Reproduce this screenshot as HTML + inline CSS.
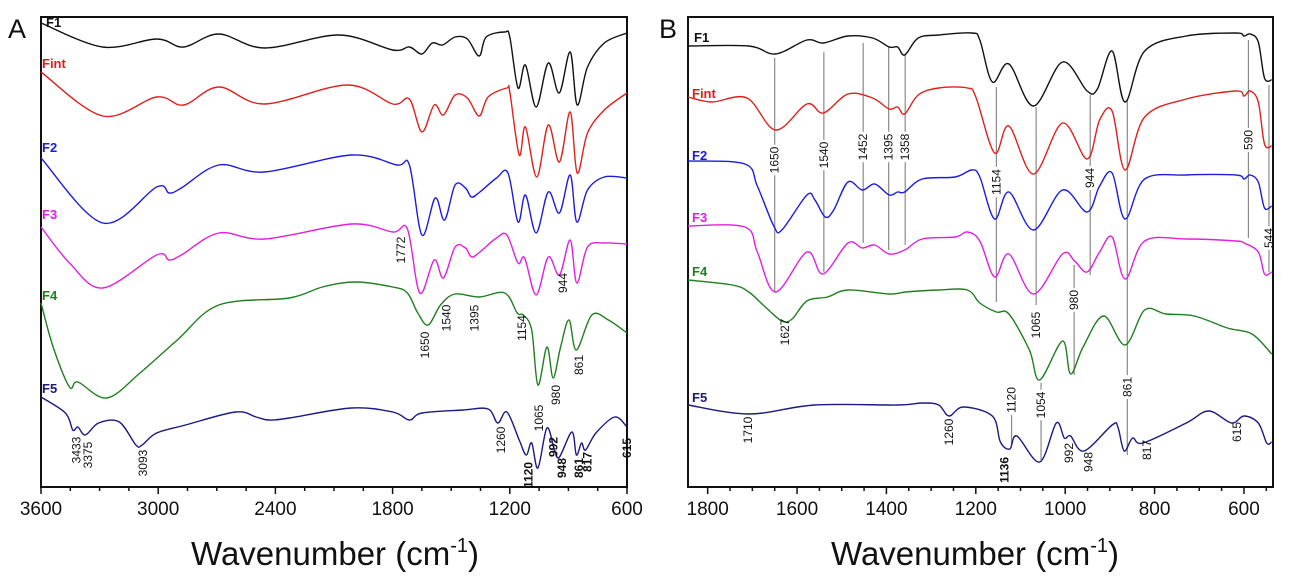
<!DOCTYPE html>
<html><head><meta charset="utf-8"><style>
body{margin:0;background:#fff;}
svg{display:block;font-family:"Liberation Sans",Arial,sans-serif;}
</style></head><body>
<svg id="fig" width="1299" height="579" viewBox="0 0 1299 579" xmlns="http://www.w3.org/2000/svg"></svg>
<script>
// ---- Panel A data (wavenumber cm-1, vertical offset a.u. downward) ----
const aF1W=[3600,3284,3008,2870,2690,2456,2075,1799,1714,1650,1597,1544,1480,1417,1357,1321,1226,1200,1158,1120,1065,1003,947,891,855,802,716,600];
const aF1V=[23,47,39,47,34,48,35,50,47,54,43,45,37,39,56,37,32,37,88,65,107,63,93,52,105,67,43,33];
const aFintW=[3600,3284,3008,2870,2690,2456,2032,1799,1714,1650,1587,1540,1480,1417,1357,1311,1215,1200,1152,1120,1062,1003,946,891,855,802,716,600];
const aFintV=[72,116,97,105,87,104,85,104,99,132,105,115,95,98,116,97,88,92,155,127,177,125,162,112,173,133,110,93];
const aF2W=[3600,3284,3008,2944,2881,2690,2456,2011,1778,1714,1650,1582,1534,1480,1427,1396,1353,1268,1209,1158,1120,1065,1003,946,891,857,802,716,600];
const aF2V=[158,223,187,193,188,165,172,155,165,165,235,198,220,185,188,197,192,178,173,222,195,233,192,213,175,222,190,177,178];
const aF3W=[3600,3454,3284,3008,2944,2881,2690,2456,2011,1799,1724,1661,1587,1540,1480,1427,1396,1353,1268,1215,1158,1124,1065,1003,946,891,857,802,716,600];
const aF3V=[227,263,288,255,260,255,233,239,224,232,229,293,260,278,247,248,257,252,238,235,263,258,295,257,275,240,283,247,243,244];
const aF4W=[3600,3538,3454,3411,3263,3093,2902,2690,2329,2159,1990,1799,1724,1671,1618,1555,1480,1357,1226,1162,1131,1088,1056,1010,978,940,897,859,780,695,600];
const aF4V=[303,347,387,382,398,373,340,305,298,287,282,287,293,313,325,305,294,297,293,313,315,330,385,347,378,347,320,350,315,320,333];
const aF5W=[3600,3475,3437,3411,3373,3305,3199,3114,3082,3008,2860,2605,2499,2435,2329,2011,1799,1714,1650,1438,1311,1262,1215,1152,1116,1088,1056,1010,971,946,882,859,833,812,759,663,600];
const aF5V=[397,413,430,427,435,423,422,445,445,433,425,412,417,420,418,408,412,420,413,410,409,423,412,440,455,443,468,428,450,457,432,455,443,450,433,417,427];
// ---- Panel B data ----
const bF1W=[1844,1708,1648,1578,1541,1486,1431,1394,1375,1359,1329,1283,1209,1191,1163,1126,1071,1006,951,928,895,866,822,729,618,600,586,568,554,538];
const bF1V=[46,46,54,40,43,36,38,47,47,55,38,35,33,40,82,64,106,62,91,89,51,102,51,36,33,36,34,42,78,80];
const bFintW=[1844,1791,1712,1648,1578,1541,1486,1431,1394,1375,1359,1329,1283,1219,1200,1158,1126,1071,1006,951,923,895,866,822,729,618,600,586,568,554,538];
const bFintV=[97,102,98,130,104,113,94,98,109,107,114,95,88,88,97,153,126,174,123,159,120,111,170,117,99,91,96,91,102,144,146];
const bF2W=[1844,1717,1689,1652,1634,1578,1560,1537,1518,1486,1454,1426,1394,1375,1359,1320,1246,1209,1191,1158,1126,1071,1006,951,923,895,866,822,729,618,600,586,568,554,538];
const bF2V=[161,164,186,226,230,195,200,217,210,182,190,184,195,192,192,179,177,170,177,219,192,230,190,212,186,173,219,179,175,175,179,175,182,208,206];
const bF3W=[1844,1717,1689,1648,1578,1542,1486,1454,1426,1394,1359,1320,1246,1219,1191,1158,1126,1071,1006,979,951,923,895,866,822,729,618,600,568,554,538];
const bF3V=[226,227,252,292,252,274,243,248,245,254,250,239,237,232,241,277,254,294,254,261,272,252,237,279,241,239,241,243,252,274,272];
const bF4W=[1844,1745,1708,1671,1634,1611,1578,1532,1486,1394,1357,1283,1219,1191,1154,1126,1080,1057,1006,988,960,914,866,822,775,711,637,582,538];
const bF4V=[280,285,292,307,321,319,301,297,290,294,292,290,290,303,312,314,350,380,341,374,347,316,345,310,314,316,328,334,354];
const bF5W=[1844,1708,1560,1375,1320,1283,1260,1228,1163,1145,1124,1108,1057,1020,1002,988,958,895,882,868,849,826,729,679,628,600,568,549,538];
const bF5V=[405,414,405,405,403,405,416,407,416,442,449,436,462,423,438,436,451,425,427,451,438,443,423,411,423,416,423,443,442];

// ---- annotations: [wavenumber, label, labelCenterY, bold] ----
const annA=[[1772,'1772',250,0],[944,'944',283,0],[1650,'1650',345,0],[1540,'1540',318,0],[1395,'1395',318,0],[1154,'1154',328,0],[861,'861',365,0],[980,'980',395,0],[1065,'1065',418,0],[3433,'3433',450,0],[3375,'3375',455,0],[3093,'3093',463,0],[1260,'1260',440,0],[1120,'1120',475,1],[992,'992',447,1],[948,'948',468,1],[861,'861',468,1],[817,'817',462,1],[615,'615',448,1]];
const annB=[[1650,'1650',160,0],[1540,'1540',155,0],[1452,'1452',147,0],[1395,'1395',147,0],[1358,'1358',147,0],[1154,'1154',182,0],[944,'944',178,0],[590,'590',140,0],[544,'544',238,0],[980,'980',300,0],[1065,'1065',325,0],[1627,'1627',332,0],[861,'861',387,0],[1054,'1054',405,0],[1710,'1710',430,0],[1260,'1260',432,0],[1120,'1120',400,0],[1136,'1136',470,1],[992,'992',453,0],[948,'948',462,0],[817,'817',450,0],[615,'615',432,0]];
// guide lines panel B: [wavenumber, y1, y2]
const guideB=[[1650,58,292],[1540,52,272],[1452,43,243],[1395,47,250],[1358,55,245],[1154,87,302],[1065,107,305],[944,95,275],[861,100,455],[980,265,375],[590,40,238],[544,85,272],[1054,383,460],[1120,388,445]];

const SVGNS="http://www.w3.org/2000/svg";
const svg=document.getElementById('fig');
function el(tag,attrs,parent){const e=document.createElementNS(SVGNS,tag);for(const k in attrs)e.setAttribute(k,attrs[k]);(parent||svg).appendChild(e);return e;}

const panels={
 A:{x0:41,x1:627,w0:3600,w1:600,top:17,bottom:487},
 B:{x0:688,x1:1273,w0:1844,w1:535,top:17,bottom:487}
};
function xs(p,w){return p.x0+(p.w0-w)/(p.w0-p.w1)*(p.x1-p.x0);}
function ys(p,v){return p.top+(v-17)/(487-17)*(p.bottom-p.top);}

function pathFor(p,W,V){
 const pts=W.map((w,i)=>[xs(p,w),ys(p,V[i])]);
 let d='M'+pts[0][0].toFixed(1)+','+pts[0][1].toFixed(1);
 for(let i=0;i<pts.length-1;i++){
  const p0=pts[Math.max(0,i-1)],p1=pts[i],p2=pts[i+1],p3=pts[Math.min(pts.length-1,i+2)];
  const c1=[p1[0]+(p2[0]-p0[0])/6,p1[1]+(p2[1]-p0[1])/6];
  const c2=[p2[0]-(p3[0]-p1[0])/6,p2[1]-(p3[1]-p1[1])/6];
  d+=' C'+c1[0].toFixed(1)+','+c1[1].toFixed(1)+' '+c2[0].toFixed(1)+','+c2[1].toFixed(1)+' '+p2[0].toFixed(1)+','+p2[1].toFixed(1);
 }
 return d;
}

// guide lines and their label gaps first (spectra drawn on top)
for(const g of guideB){
 const x=xs(panels.B,g[0]);
 const ln=el('line',{x1:x,x2:x,y1:g[1],y2:g[2],stroke:'#8a8a8a','stroke-width':1.2});
 
 
}
for(const a of annB){
 const x=xs(panels.B,a[0]),y=a[2];
 const w=a[1].length*6.6+4;
 const bg=el('rect',{x:x-6,y:y-w/2,width:12,height:w,fill:'#fff'});
 
 
}

const COL={F1:'#111',Fint:'#e0201b',F2:'#1c1ce0',F3:'#e020e0',F4:'#1f7f1f',F5:'#1a1a80'};

function drawPanel(key,series,labels,majors,minorStep,titleX,letter){
 const p=panels[key];
 const g=el('g',{});
 
 
 const fr=el('rect',{x:p.x0,y:p.top,width:p.x1-p.x0,height:p.bottom-p.top,fill:'none',stroke:'#111','stroke-width':2},g);
 
 
 for(const s of series){
  const pa=el('path',{d:pathFor(p,s.W,s.V),fill:'none',stroke:COL[s.n],'stroke-width':1.4},g);
  
  
 }
 for(const l of labels){
  const t=el('text',{x:l[1],y:l[2],fill:COL[l[0]],'font-size':13,'font-weight':'bold'},g);
  t.textContent=l[0];
  
  
 }
 const lo=Math.min(p.w0,p.w1),hi=Math.max(p.w0,p.w1);
 for(let w=Math.ceil(lo/minorStep)*minorStep;w<=hi;w+=minorStep){
  const x=xs(p,w);const maj=majors.includes(w);
  const tk=el('line',{x1:x,x2:x,y1:p.bottom,y2:p.bottom+(maj?7:4),stroke:'#111','stroke-width':1.5},g);
  
  
 }
 for(const w of majors){
  const t=el('text',{x:xs(p,w),y:p.bottom+28,'font-size':19,'text-anchor':'middle',fill:'#111'},g);
  t.textContent=w;
  
  
 }
 const tt=el('text',{x:titleX,y:565,'font-size':33,'text-anchor':'middle',fill:'#111'},g);
 tt.innerHTML='Wavenumber (cm<tspan font-size="20" dy="-13">-1</tspan><tspan dy="13">)</tspan>';
 
 
 const lt=el('text',{x:letter[1],y:letter[2],'font-size':27,fill:'#111'},g);
 lt.textContent=letter[0];
 
 
}

drawPanel('A',[
 {n:'F1',W:aF1W,V:aF1V},{n:'Fint',W:aFintW,V:aFintV},{n:'F2',W:aF2W,V:aF2V},
 {n:'F3',W:aF3W,V:aF3V},{n:'F4',W:aF4W,V:aF4V},{n:'F5',W:aF5W,V:aF5V}],
 [['F1',46,27],['Fint',42,68],['F2',42,152],['F3',42,219],['F4',42,300],['F5',42,393]],
 [3600,3000,2400,1800,1200,600],150,335,['A',8,38]);
drawPanel('B',[
 {n:'F1',W:bF1W,V:bF1V},{n:'Fint',W:bFintW,V:bFintV},{n:'F2',W:bF2W,V:bF2V},
 {n:'F3',W:bF3W,V:bF3V},{n:'F4',W:bF4W,V:bF4V},{n:'F5',W:bF5W,V:bF5V}],
 [['F1',694,42],['Fint',692,98],['F2',692,160],['F3',692,222],['F4',692,276],['F5',692,402]],
 [1800,1600,1400,1200,1000,800,600],50,975,['B',659,38]);

function drawAnn(p,list,xoff){
 for(const a of list){
  const x=xs(p,a[0])+(xoff||0),y=a[2];
  const t=el('text',{x:x,y:y,'font-size':12,'text-anchor':'middle','dominant-baseline':'central',fill:'#111','font-weight':a[3]?'bold':'normal',transform:'rotate(-90 '+x+' '+y+')'});
  t.textContent=a[1];
  
  
 }
}
drawAnn(panels.A,annA,3);
drawAnn(panels.B,annB,0);
</script>
</body></html>
